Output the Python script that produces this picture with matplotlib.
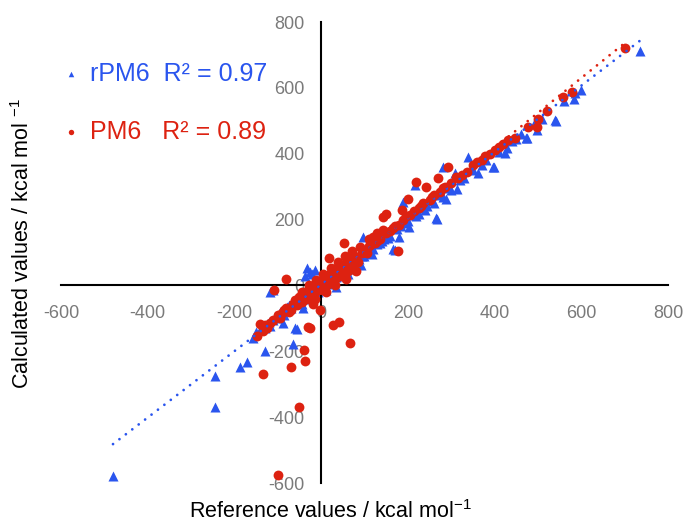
import numpy as np
import matplotlib.pyplot as plt

plt.rcParams['font.family'] = ['Liberation Sans', 'DejaVu Sans']
plt.rcParams['mathtext.fontset'] = 'custom'
plt.rcParams['mathtext.rm'] = 'Liberation Sans'
plt.rcParams['mathtext.it'] = 'Liberation Sans:italic'
plt.rcParams['axes.unicode_minus'] = False

# rPM6 (reference, calculated) in kcal/mol
rpm6_ref = [-480, -244, -244, -187, -171, -157, -140, -130, -129, -120, -118, -118, -110,
            -110, -100, -95, -90, -88, -78, -70, -65, -65, -60, -60, -55, -55, -50, -45,
            -41, -40, -35, -32, -25, -20, -15, -14, -10, -5, 0, 5, 10, 15, 20, 25, 30,
            35, 40, 45, 50, 55, 60, 65, 70, 75, 80, 85, 90, 97, 100, 105, 110, 115, 120,
            125, 130, 140, 150, 160, 166, 171, 180, 185, 189, 195, 203, 210, 217, 220,
            230, 240, 250, 260, 265, 267, 270, 280, 281, 288, 290, 300, 309, 313, 320,
            330, 339, 350, 362, 370, 380, 397, 399, 410, 424, 429, 440, 450, 460, 473,
            475, 490, 498, 510, 540, 542, 560, 583, 586, 600, 735,
            -150, -135, -125, -105, -85, -75, -48, -30, -22, -8, 2, 8, 12, 18, 28, 38,
            48, 58, 68, 78, 88, 95, 108, 135, 145, 155, 175, 200, 225, 245,
            -38, -20, 35, 62, 92, 118]
rpm6_calc = [-580, -368, -275, -247, -232, -159, -135, -128, -198, -110, -122, -21, -15,
             -105, -95, -80, -82, -113, -64, -70, -55, -177, -50, -128, -45, -131, -40,
             -55, -67, -30, -20, 52, 40, -15, -5, 46, -10, 0, 5, -5, 15, 5, 25, 15, 30,
             25, 45, 35, 55, 45, 65, 50, 75, 65, 85, 70, 95, 147, 90, 110, 100, 120, 110,
             130, 125, 135, 155, 150, 110, 107, 147, 180, 253, 190, 177, 215, 305, 210,
             235, 230, 255, 250, 204, 201, 275, 270, 360, 262, 295, 290, 342, 293, 320,
             325, 390, 350, 343, 365, 380, 360, 361, 405, 403, 418, 440, 445, 460, 448,
             449, 490, 473, 505, 504, 500, 560, 565, 586, 595, 712,
             -140, -125, -118, -100, -90, -60, -30, -40, -30, -20, -10, 0, -15, 10, 20, 30,
             38, 48, 60, 68, 80, 88, 100, 128, 140, 145, 170, 195, 218, 240,
             28, 35, -5, 35, 62, 95]

# PM6 (reference, calculated) in kcal/mol
pm6_ref = [-148, -141, -134, -134, -130, -118, -108, -100, -99, -90, -81, -80, -70, -69,
           -65, -60, -55, -51, -50, -45, -40, -39, -37, -35, -30, -30, -25, -25, -20, -18,
           -15, -10, -5, -2, 0, 0, 5, 5, 10, 10, 15, 15, 18, 20, 20, 25, 25, 28, 30, 30,
           35, 35, 40, 40, 41, 45, 45, 50, 50, 53, 55, 60, 60, 65, 67, 70, 75, 80, 90,
           100, 110, 120, 125, 135, 143, 143, 150, 150, 160, 170, 178, 180, 186, 190, 200,
           205, 215, 219, 225, 235, 242, 250, 260, 270, 275, 285, 293, 300, 315, 336,
           350, 371, 378, 401, 410, 431, 447, 477, 498, 500, 520, 558, 579, 701,
           -125, -112, -95, -85, -75, -62, -52, -42, -32, -22, -12, -8, -3, 3, 8, 12, 18,
           22, 28, 32, 38, 43, 48, 52, 58, 62, 68, 72, 78, 85, 95, 105, 115, 130, 165,
           195, 230, 255, 280, 310, 325, 360, 390, 420,
           -45, -28, -12, 5, 22, 38, 55, 72, -15, 12, 32, 58, 80, 110, 128]
pm6_calc = [-153, -116, -137, -269, -120, -113, -15, -90, -577, -85, 21, -70, -75, -247,
            -55, -45, -60, -369, -35, -50, -25, -195, -229, -40, -15, -125, -30, -128, -5,
            -55, -20, 5, -10, -76, 10, -5, 15, -15, 20, 0, 25, 5, 82, 35, 10, 30, 15, -119,
            45, 20, 40, 25, 55, 30, -110, 50, 35, 60, 40, 128, 65, 70, 50, 80, -174, 75,
            90, 85, 116, 105, 120, 147, 130, 140, 168, 208, 217, 160, 165, 180, 104, 185,
            229, 200, 263, 215, 225, 314, 235, 250, 300, 260, 275, 326, 285, 300, 361,
            310, 325, 345, 365, 382, 394, 412, 421, 443, 449, 482, 482, 507, 530, 571,
            589, 720,
            -130, -105, -100, -75, -80, -55, -40, -45, -20, -25, -5, -15, 5, -5, 20, 0, 30,
            10, 38, 20, 45, 28, 55, 35, 68, 45, 75, 55, 85, 70, 100, 100, 125, 135, 175,
            210, 240, 270, 295, 330, 335, 375, 400, 430,
            -20, 0, 18, 35, 52, 70, 90, 105, -40, -20, 0, 20, 45, 140, 160]

# linear trend lines: slope, intercept
rpm6_fit = (1.008, 2.0)
pm6_fit = (1.06, -6.0)

blue = '#2a55ee'
red = '#dd2211'
ticks = [-600, -400, -200, 0, 200, 400, 600, 800]

fig = plt.figure(figsize=(6.86, 5.25), dpi=100)
ax = fig.add_axes([0.0889, 0.08, 0.8848, 0.878])

ax.scatter(rpm6_ref, rpm6_calc, marker='^', s=52, color=blue, linewidths=0,
           label='rPM6  R² = 0.97', zorder=2)
ax.scatter(pm6_ref, pm6_calc, marker='o', s=50, color=red, linewidths=0,
           label='PM6   R² = 0.89', zorder=3)

for xs, fit, c in [(rpm6_ref, rpm6_fit, blue), (pm6_ref, pm6_fit, red)]:
    xl = np.array([min(xs), max(xs)])
    ax.plot(xl, fit[0] * xl + fit[1], color=c, lw=2, linestyle=(0, (0.01, 2.9)),
            dash_capstyle='round', zorder=4)

ax.set_xlim(-600, 800)
ax.set_ylim(-600, 800)
ax.set_xticks(ticks)
ax.set_yticks(ticks)
ax.spines['left'].set_position(('data', 0))
ax.spines['bottom'].set_position(('data', 0))
ax.spines['top'].set_visible(False)
ax.spines['right'].set_visible(False)
for sp in ['left', 'bottom']:
    ax.spines[sp].set_linewidth(1.5)
ax.tick_params(axis='both', length=0, labelsize=13, labelcolor='#7a7a7a')
ax.tick_params(axis='y', pad=12)
ax.tick_params(axis='x', pad=14)

ax.set_xlabel('Reference values / kcal mol$^{-1}$', fontsize=15.5)
ax.set_ylabel('Calculated values / kcal mol $^{-1}$', fontsize=15.5)
ax.xaxis.set_label_coords(0.443, -0.038)
ax.yaxis.set_label_coords(-0.045, 0.52)

leg = ax.legend(loc='upper left', bbox_to_anchor=(0.093, 0.882), bbox_transform=fig.transFigure,
                frameon=False, fontsize=18, markerscale=0.55, handlelength=0.6,
                handletextpad=0.45, labelspacing=1.35, borderpad=0, borderaxespad=0,
                labelcolor=[blue, red])

fig.savefig('out.png', dpi=100)
